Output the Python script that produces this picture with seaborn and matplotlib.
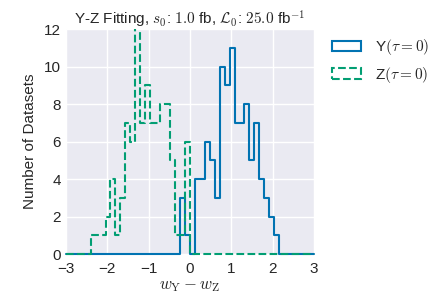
import numpy as np
import pandas as pd
import matplotlib
matplotlib.use("Agg")
import matplotlib.pyplot as plt
from matplotlib.patches import Patch
from matplotlib.transforms import Bbox, TransformedBbox
import seaborn as sns

# Histogram binning: 50 bins over [-3, 3]
n_bins = 50
bin_range = (-3.0, 3.0)
bin_edges = np.linspace(bin_range[0], bin_range[1], n_bins + 1)
bin_centers = 0.5 * (bin_edges[:-1] + bin_edges[1:])

# Counts per bin
y_counts = [0, 0, 0, 0, 0, 0, 0, 0, 0, 0,
            0, 0, 0, 0, 0, 0, 0, 0, 0, 0,
            0, 0, 0, 3, 1, 0, 4, 4, 6, 5,
            3, 10, 9, 11, 7, 7, 8, 5, 7, 4,
            3, 2, 1, 0, 0, 0, 0, 0, 0, 0]
z_counts = [0, 0, 0, 0, 0, 1, 1, 1, 2, 4,
            1, 3, 7, 6, 15, 7, 9, 7, 7, 8,
            8, 5, 1, 1, 6, 0, 0, 0, 0, 0,
            0, 0, 0, 0, 0, 0, 0, 0, 0, 0,
            0, 0, 0, 0, 0, 0, 0, 0, 0, 0]

labels = [r"Y$(\tau=0)$", r"Z$(\tau=0)$"]
title = r"Y-Z Fitting, $s_0$: $1.0$ fb, $\mathcal{L}_0$: $25.0$ fb$^{-1}$"
xticks = [-3, -2, -1, 0, 1, 2, 3]
yticks = [0, 2, 4, 6, 8, 10, 12]

df_y = pd.DataFrame({"x": bin_centers, "w": y_counts})
df_z = pd.DataFrame({"x": bin_centers, "w": z_counts})

sns.set_theme(style="darkgrid")
plt.rcParams["mathtext.fontset"] = "cm"
plt.rcParams["font.family"] = ["Liberation Sans", "DejaVu Sans"]

pal = sns.color_palette("colorblind")
c_y, c_z = pal[0], pal[2]

fig = plt.figure(figsize=(4.36, 3.0), dpi=100)
ax = fig.add_axes([0.151, 0.153, 0.569, 0.750])

sns.histplot(data=df_y, x="x", weights="w", bins=n_bins, binrange=bin_range,
             element="step", fill=False, color=c_y, linewidth=1.5, ax=ax)
sns.histplot(data=df_z, x="x", weights="w", bins=n_bins, binrange=bin_range,
             element="step", fill=False, color=c_z, linewidth=1.5,
             linestyle="--", ax=ax)

ax.set_xlim(-3, 3)
ax.set_ylim(0, 12)
for sp in ax.spines.values():
    sp.set_visible(False)

# clip at the top of the axes but let the zero baseline show fully
clip_box = TransformedBbox(Bbox([[-0.01, -0.03], [1.01, 1.0]]), ax.transAxes)
for art in list(ax.lines) + list(ax.patches) + list(ax.collections):
    art.set_clip_path(None)
    art.set_clip_box(clip_box)
    art.set_clip_on(True)
    art.set_zorder(3)

ax.set_xticks(xticks)
ax.set_yticks(yticks)
ax.tick_params(axis="x", labelsize=11, length=0, pad=6)
ax.tick_params(axis="y", labelsize=11, length=0, pad=3.5)
ax.set_xlabel(r"$w_{\rm Y} - w_{\rm Z}$", fontsize=12, labelpad=2)
ax.set_ylabel("Number of Datasets", fontsize=11, labelpad=5)
ax.set_title(title, fontsize=11, pad=3)

handles = [Patch(facecolor="none", edgecolor=c_y, linewidth=1.5),
           Patch(facecolor="none", edgecolor=c_z, linewidth=1.5, linestyle="--")]
ax.legend(handles, labels, loc="upper left", bbox_to_anchor=(1.05, 0.99),
          frameon=False, fontsize=11, handlelength=1.9, handleheight=0.7,
          labelspacing=0.5, handletextpad=0.9, borderaxespad=0.0)

fig.savefig("out.png", dpi=100)
